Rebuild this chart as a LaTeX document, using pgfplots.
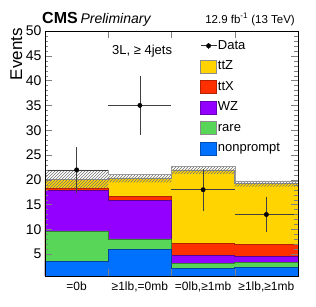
\documentclass[border=0pt]{standalone}
\usepackage{pgfplots}
\pgfplotsset{compat=1.18}
\usepackage{fontspec}
\setmainfont{Liberation Sans}
\usetikzlibrary{patterns}
\definecolor{cttz}{RGB}{255,212,0}
\definecolor{cttx}{RGB}{255,48,0}
\definecolor{cwz}{RGB}{148,0,255}
\definecolor{crare}{RGB}{88,214,88}
\definecolor{cnp}{RGB}{0,112,255}
\pgfplotsset{boxleg/.style={legend image code/.code={\draw[##1] (0pt,-6.5pt) rectangle (16pt,6.5pt);}}}
\begin{document}
\begin{tikzpicture}
\begin{axis}[at={(0,0)}, anchor=south west, scale only axis,
  width=253pt, height=245pt,
  xmin=0, xmax=4, ymin=0.6, ymax=50,
  xtick={1,2,3}, xticklabels={},
  extra x ticks={0.5,1.5,2.5,3.5},
  extra x tick labels={{=0b},{≥1lb,=0mb},{=0lb,≥1mb},{≥1lb,≥1mb}},
  extra x tick style={major tick length=0pt, tick label style={font=\fontsize{12}{14}\selectfont, yshift=-2pt}},
  ytick={5,10,...,50}, minor y tick num=4,
  tick align=inside, major tick length=7pt, minor tick length=3.5pt,
  /pgf/number format/assume math mode=true,
  yticklabel style={font=\fontsize{14}{16}\selectfont},
  axis line style={line width=0.7pt},
  axis on top,
  legend style={draw=none, fill=none, at={(0.613,0.97)}, anchor=north west,
    font=\fontsize{13}{15}\selectfont, row sep=6pt, inner sep=0pt,
    nodes={inner sep=1pt, text height=9.5pt, text depth=3pt}},
  legend cell align=left,
]
% legend images
\addlegendimage{legend image code/.code={\draw[black!80, line width=0.6pt] (0pt,0pt)--(16pt,0pt); \draw[black!80, line width=0.6pt] (8pt,-3pt)--(8pt,3pt); \fill[black] (8pt,0pt) circle (2.2pt);}}
\addlegendentry{Data}
\addlegendimage{boxleg, fill=cttz, draw=black!45}
\addlegendentry{ttZ}
\addlegendimage{boxleg, fill=cttx, draw=cttx!70!black}
\addlegendentry{ttX}
\addlegendimage{boxleg, fill=cwz, draw=cwz!70!black}
\addlegendentry{WZ}
\addlegendimage{boxleg, fill=crare, draw=black!45}
\addlegendentry{rare}
\addlegendimage{boxleg, fill=cnp, draw=cnp!70!black}
\addlegendentry{nonprompt}
% stacked (cumulative) contributions
\addplot[const plot, fill=cttz, draw=black!45, line width=0.5pt, forget plot]
  coordinates {(0,20.1) (1,20.4) (2,22.0) (3,19.3) (4,19.3)} \closedcycle;
\addplot[const plot, fill=cttx, draw=cttx!70!black, line width=0.5pt, forget plot]
  coordinates {(0,18.3) (1,16.6) (2,7.2) (3,7.0) (4,7.0)} \closedcycle;
\addplot[const plot, fill=cwz, draw=cwz!60!black, line width=0.5pt, forget plot]
  coordinates {(0,17.8) (1,15.9) (2,4.8) (3,4.6) (4,4.6)} \closedcycle;
\addplot[const plot, fill=crare, draw=crare!60!black, line width=0.5pt, forget plot]
  coordinates {(0,9.7) (1,8.1) (2,3.2) (3,3.4) (4,3.4)} \closedcycle;
\addplot[const plot, fill=cnp, draw=cnp!60!black, line width=0.5pt, forget plot]
  coordinates {(0,3.6) (1,6.0) (2,2.2) (3,2.3) (4,2.3)} \closedcycle;
% uncertainty band (step outline: upper edge, then lower edge back)
\addplot[pattern=north east lines, pattern color=black!55, draw=none, forget plot]
  coordinates {(0,22.0) (1,22.0) (1,21.1) (2,21.1) (2,22.7) (3,22.7) (3,19.8) (4,19.8)
               (4,18.6) (3,18.6) (3,21.2) (2,21.2) (2,19.5) (1,19.5) (1,18.3) (0,18.3)} --cycle;
\addplot[const plot, draw=black!40, line width=0.4pt, forget plot]
  coordinates {(0,22.0) (1,21.1) (2,22.7) (3,19.8) (4,19.8)};
% data
\addplot[only marks, mark=*, mark size=2.2pt, black, forget plot,
  error bars/.cd, x dir=both, x explicit, y dir=both, y explicit,
  error mark=none, error bar style={line width=0.6pt, black!75}]
  coordinates {(0.5,22) +- (0.5,4.7) (1.5,35) +- (0.5,5.9) (2.5,18) +- (0.5,4.2) (3.5,13) +- (0.5,3.6)};
% texts
\node[anchor=base west, inner sep=0pt, font=\fontsize{13}{15}\selectfont]
  at ([xshift=67pt,yshift=-24pt]rel axis cs:0,1) {3L, ≥ 4jets};
\end{axis}
\node[anchor=base east, inner sep=0pt, rotate=90, font=\fontsize{17}{19}\selectfont]
  at (-23pt,248pt) {Events};
\node[anchor=base west, inner sep=0pt] at (-3pt,252.7pt)
  {{\fontsize{16}{18}\selectfont\bfseries CMS} {\fontsize{14}{16}\selectfont\itshape Preliminary}};
\node[anchor=base east, inner sep=0pt, font=\fontsize{11.5}{13}\selectfont] at (250pt,252.7pt)
  {12.9 fb\textsuperscript{-1} (13 TeV)};
\pgfresetboundingbox
\useasboundingbox (-45pt,-31pt) rectangle (271pt,276pt);
\end{tikzpicture}
\end{document}
